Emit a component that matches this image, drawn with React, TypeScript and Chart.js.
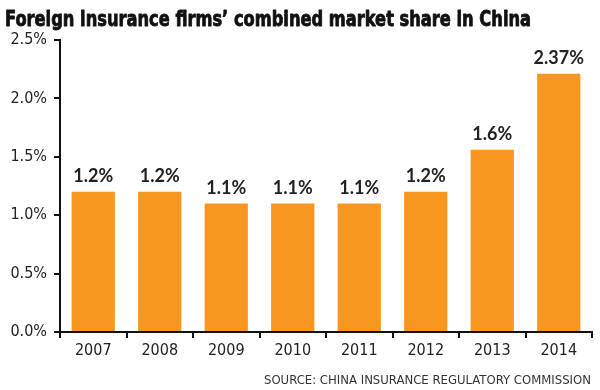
import React, { useEffect, useRef } from "react";
import { Chart, registerables } from "chart.js";

Chart.register(...registerables);

const titleText = "Foreign insurance firms’ combined market share in China";
const sourceText = "SOURCE: CHINA INSURANCE REGULATORY COMMISSION";
const years = ["2007", "2008", "2009", "2010", "2011", "2012", "2013", "2014"];
const barHeights = [1.2, 1.2, 1.1, 1.1, 1.1, 1.2, 1.56, 2.21];
const valueLabels = ["1.2%", "1.2%", "1.1%", "1.1%", "1.1%", "1.2%", "1.6%", "2.37%"];
const yTicks = [0, 0.5, 1.0, 1.5, 2.0, 2.5];

const condensed = "'Liberation Sans Narrow', 'DejaVu Sans Condensed', 'Roboto', sans-serif";

const textPlugin = {
  id: "textPlugin",
  afterDraw(chart: any) {
    const ctx = chart.ctx;
    ctx.save();
    // title
    ctx.fillStyle = "#111";
    ctx.strokeStyle = "#111";
    ctx.lineWidth = 0.8;
    ctx.lineJoin = "round";
    ctx.font = "bold 21px " + condensed;
    ctx.textAlign = "left";
    ctx.textBaseline = "alphabetic";
    ctx.fillText(titleText, 5, 26, 526);
    ctx.strokeText(titleText, 5, 26, 526);
    // source
    ctx.fillStyle = "#333";
    ctx.font = "13px " + condensed;
    ctx.textAlign = "right";
    ctx.fillText(sourceText, 591, 384, 327);
    // value labels
    const meta = chart.getDatasetMeta(0);
    ctx.fillStyle = "#222";
    ctx.font = "bold 18px Lato, 'Open Sans', sans-serif";
    ctx.textAlign = "center";
    ctx.textBaseline = "alphabetic";
    meta.data.forEach((bar: any, i: number) => {
      ctx.fillText(valueLabels[i], bar.x, bar.y - 10);
    });
    ctx.restore();
  },
};

export default function App() {
  const ref = useRef<HTMLCanvasElement>(null);
  useEffect(() => {
    if (!ref.current) return;
    const chart = new Chart(ref.current, {
      type: "bar",
      data: {
        labels: years,
        datasets: [
          {
            data: barHeights,
            backgroundColor: "#F7971F",
            categoryPercentage: 0.65,
            barPercentage: 1,
          },
        ],
      },
      options: {
        animation: false,
        responsive: false,
        maintainAspectRatio: false,
        layout: { padding: { top: 40, right: 8, left: 0, bottom: 0 } },
        plugins: {
          legend: { display: false },
          tooltip: { enabled: false },
          title: { display: false },
        },
        scales: {
          x: {
            grid: {
              offset: true,
              drawOnChartArea: false,
              drawTicks: true,
              tickLength: 6,
              color: "#111",
              lineWidth: 2,
            },
            border: { color: "#111", width: 2 },
            ticks: {
              color: "#222",
              padding: 3,
              font: { family: condensed, size: 16 },
            },
            afterFit(scale: any) {
              scale.height = 58;
            },
          },
          y: {
            min: 0,
            max: 2.5,
            afterBuildTicks(scale: any) {
              scale.ticks = yTicks.map((v) => ({ value: v }));
            },
            grid: {
              drawOnChartArea: false,
              drawTicks: true,
              tickLength: 6,
              color: "#111",
              lineWidth: 2,
            },
            border: { color: "#111", width: 2 },
            ticks: {
              color: "#222",
              padding: 7,
              font: { family: condensed, size: 16 },
              callback: (v: any) => Number(v).toFixed(1) + "%",
            },
            afterFit(scale: any) {
              scale.width = 60;
            },
          },
        },
      },
      plugins: [textPlugin],
    });
    return () => chart.destroy();
  }, []);
  return (
    <div style={{ position: "fixed", left: 0, top: 0, width: 600, height: 390, background: "#fff" }}>
      <canvas ref={ref} width={600} height={390} style={{ width: 600, height: 390 }} />
    </div>
  );
}
